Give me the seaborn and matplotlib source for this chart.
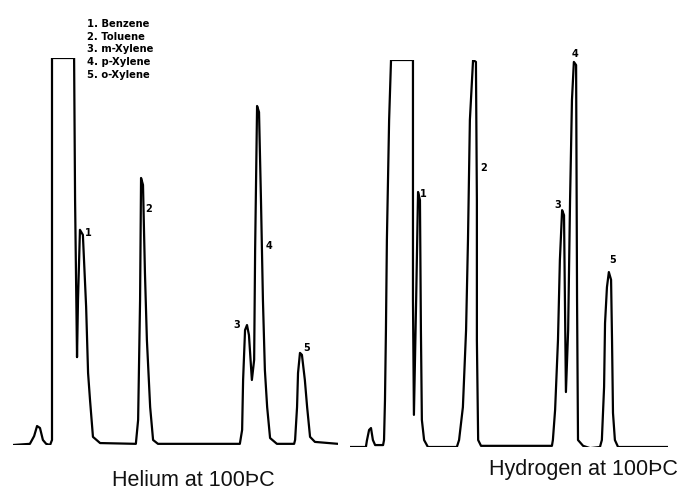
import numpy as np
import pandas as pd
import matplotlib
matplotlib.use("Agg")
import matplotlib.pyplot as plt
import seaborn as sns

# traccia elio: tempo (min) e segnale (% fondo scala)
he_time = [0.00, 0.52, 0.65, 0.74, 0.83, 0.92, 1.02, 1.14, 1.20, 1.20, 1.88, 1.91,
           1.97, 2.00, 2.06, 2.15, 2.25, 2.31, 2.37, 2.46, 2.68, 3.78, 3.85, 3.91,
           3.94, 4.00, 4.06, 4.12, 4.22, 4.31, 4.46, 6.98, 7.05, 7.08, 7.14, 7.20,
           7.26, 7.35, 7.42, 7.45, 7.51, 7.57, 7.63, 7.69, 7.75, 7.82, 7.91, 8.12,
           8.65, 8.68, 8.74, 8.77, 8.83, 8.89, 8.98, 9.05, 9.14, 9.29, 10.00]
he_signal = [0.0, 0.3, 2.3, 4.9, 4.4, 1.3, 0.3, 0.0, 1.3, 100.0, 100.0, 63.3,
             22.7, 37.5, 55.6, 54.3, 35.7, 18.6, 11.6, 2.1, 0.5, 0.3, 6.5, 37.5,
             69.0, 67.2, 44.4, 27.1, 9.8, 1.3, 0.3, 0.3, 3.9, 16.8, 29.7, 31.0,
             28.4, 16.8, 22.0, 50.4, 87.6, 86.0, 63.3, 37.5, 19.4, 9.8, 1.8, 0.3,
             0.3, 1.3, 9.8, 18.6, 23.8, 23.3, 16.8, 9.8, 2.1, 0.8, 0.3]

# traccia idrogeno
h2_time = [0.00, 0.50, 0.53, 0.60, 0.66, 0.72, 0.79, 1.04, 1.07, 1.10, 1.13, 1.16,
           1.23, 1.29, 1.98, 1.98, 2.01, 2.08, 2.14, 2.20, 2.23, 2.26, 2.33, 2.45,
           3.36, 3.43, 3.55, 3.65, 3.71, 3.77, 3.87, 3.96, 3.99, 3.99, 4.03, 4.12,
           6.35, 6.38, 6.45, 6.54, 6.60, 6.67, 6.73, 6.79, 6.86, 6.92, 6.98, 7.04,
           7.11, 7.14, 7.17, 7.33, 7.55, 7.86, 7.92, 7.99, 8.02, 8.08, 8.14, 8.21,
           8.24, 8.27, 8.33, 8.43, 10.00]
h2_signal = [0.0, 0.0, 1.6, 4.4, 4.9, 1.8, 0.5, 0.5, 1.8, 12.1, 30.2, 53.5,
             84.5, 100.0, 100.0, 38.0, 8.3, 38.0, 65.9, 63.8, 30.2, 7.0, 1.8, 0.0,
             0.0, 1.8, 10.3, 30.2, 53.5, 84.5, 100.0, 99.5, 63.8, 27.6, 1.8, 0.3,
             0.3, 1.8, 9.6, 27.6, 48.3, 61.2, 59.9, 14.2, 30.2, 63.8, 89.7, 99.5,
             98.7, 38.0, 1.8, 0.3, -0.3, 0.0, 1.8, 15.5, 32.0, 41.3, 45.2, 43.2,
             27.6, 8.8, 1.8, 0.0, 0.0]

# etichette dei picchi (posizione in tempo/segnale)
peak_ids = ["1", "2", "3", "4", "5"]
he_lab_t = [2.31, 4.18, 6.89, 7.88, 9.02]
he_lab_s = [54.8, 61.0, 31.0, 51.4, 25.1]
h2_lab_t = [2.30, 4.21, 6.54, 7.08, 8.27]
h2_lab_s = [65.4, 72.1, 62.5, 101.5, 48.3]

compounds = ["Benzene", "Toluene", "m-Xylene", "p-Xylene", "o-Xylene"]

sns.set_style("white")
plt.rcParams['font.family'] = ['Liberation Sans', 'DejaVu Sans']
plt.rcParams['text.color'] = 'black'

fig = plt.figure(figsize=(6.86, 4.91), dpi=100)
ax_he = fig.add_axes([13 / 686, 46 / 491, 325 / 686, 387 / 491])
ax_h2 = fig.add_axes([350 / 686, 44 / 491, 318 / 686, 387 / 491])

panels = [
    (ax_he, he_time, he_signal, he_lab_t, he_lab_s),
    (ax_h2, h2_time, h2_signal, h2_lab_t, h2_lab_s),
]

for ax, t, s, lt, ls in panels:
    df = pd.DataFrame({'time': t, 'signal': s})
    sns.lineplot(data=df, x='time', y='signal', ax=ax, sort=False,
                 estimator=None, color='black', lw=1.6)
    for lab, x, y in zip(peak_ids, lt, ls):
        ax.text(x, y, lab, fontsize=7, color='black', ha='center', va='center',
                weight='bold', family='DejaVu Sans', clip_on=False)
    ax.set_xlim(0, 10)
    ax.set_ylim(0, 100)
    ax.set_xlabel('')
    ax.set_ylabel('')
    ax.set_xticks([])
    ax.set_yticks([])
    sns.despine(ax=ax, left=True, bottom=True)
    ax.patch.set_alpha(0)

# legenda dei composti
legend_txt = "\n".join(f"{n}. {c}" for n, c in zip(peak_ids, compounds))
fig.text(87 / 686, 1 - 19 / 491, legend_txt, fontsize=7.2, va='top', ha='left',
         weight='bold', family='DejaVu Sans', linespacing=1.33, color='black')

# didascalie
fig.text(193 / 686, 1 - 480 / 491, "Helium at 100ÞC", fontsize=15.5,
         ha='center', va='center', color='#111111')
fig.text(489 / 686, 1 - 469 / 491, "Hydrogen at 100ÞC", fontsize=15.5,
         ha='left', va='center', color='#111111')

fig.savefig('out.png', dpi=100)
